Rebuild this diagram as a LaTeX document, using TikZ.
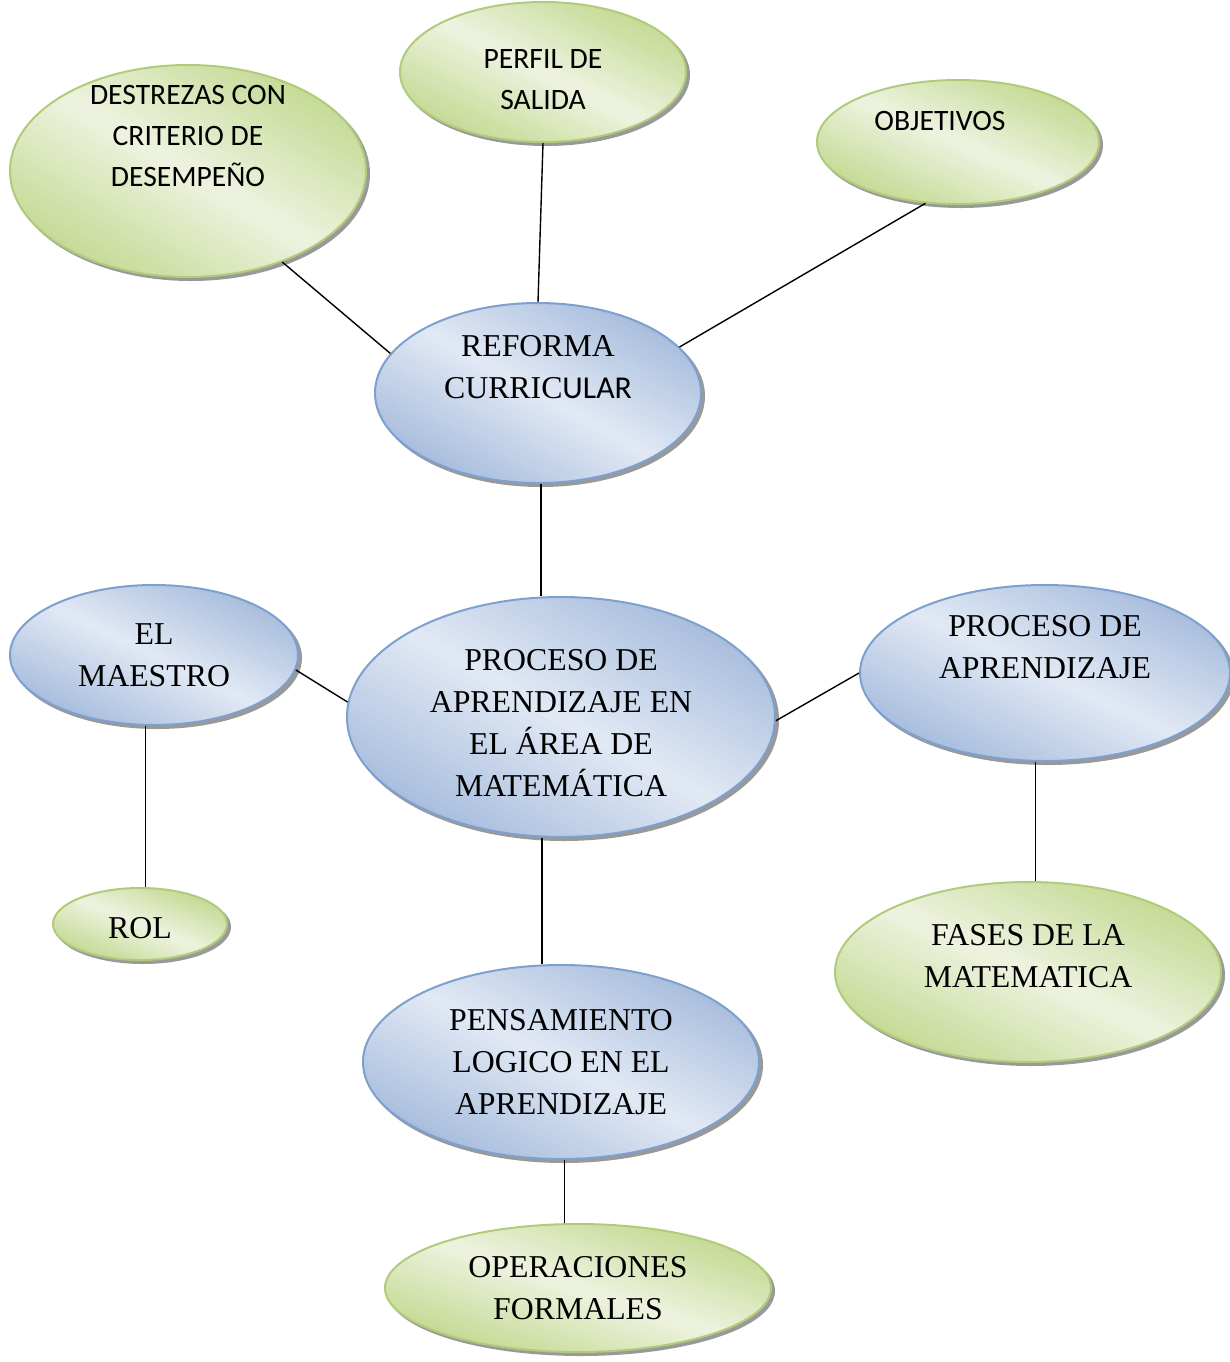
\documentclass[tikz,border=0pt]{standalone}
\usepackage{fontspec}
\setmainfont{Liberation Serif}
\newfontfamily\calibri{Carlito}
\usepackage{tikz}
\usetikzlibrary{positioning,shapes.geometric,shadows}

\definecolor{grline}{RGB}{176,204,122}
\definecolor{grdark}{RGB}{196,217,146}
\definecolor{grlight}{RGB}{238,243,224}
\definecolor{blline}{RGB}{126,160,206}
\definecolor{bldark}{RGB}{166,188,220}
\definecolor{bllight}{RGB}{226,233,245}

\newdimen\bubw
\newdimen\bubh

\tikzset{
  bubble/.style={ellipse, draw, line width=1pt, inner sep=0pt,
    copy shadow={shadow xshift=1.5pt, shadow yshift=-1.5pt, draw=black!40, fill=black!40}},
  bubgrad/.style 2 args={fill=#2, path picture={
    \pgfextractx{\bubw}{\pgfpointdiff{\pgfpointanchor{path picture bounding box}{center}}{\pgfpointanchor{path picture bounding box}{north east}}}
    \pgfextracty{\bubh}{\pgfpointdiff{\pgfpointanchor{path picture bounding box}{center}}{\pgfpointanchor{path picture bounding box}{north east}}}
    \begin{scope}[shift={(path picture bounding box.center)}, x=\bubw, y=\bubh]
      \foreach \u in {-0.76,-0.72,...,0.76} {
        \pgfmathsetmacro\m{max(0,100*(1-abs(\u+0.02)/0.74))}
        \fill[#1!\m!#2] (\u-1.5,\u+1.5) -- (\u+1.5,\u-1.5) -- (\u+1.545,\u-1.455) -- (\u-1.455,\u+1.545) -- cycle;
      }
    \end{scope}}},
  greenbub/.style={bubble, draw=grline, bubgrad={grlight}{grdark}},
  bluebub/.style={bubble, draw=blline, bubgrad={bllight}{bldark}},
  link/.style={black, line width=0.7pt},
  txt/.style={align=center, font=\fontsize{15.9}{21}\selectfont},
  ctxt/.style={align=center, font=\calibri\fontsize{14.8}{20.5}\selectfont},
}

\begin{document}
\begin{tikzpicture}[x=0.5pt, y=-0.5pt]
\useasboundingbox (0,0) rectangle (1230,1362);

\node[greenbub, minimum width=178pt, minimum height=106pt,
  label={[ctxt, yshift=17.5pt]center:DESTREZAS CON\\CRITERIO DE\\DESEMPEÑO}] (destrezas) at (188,171) {};
\node[greenbub, minimum width=143pt, minimum height=70pt,
  label={[ctxt, yshift=-4pt]center:PERFIL DE\\SALIDA}] (perfil) at (543,72) {};
\node[greenbub, minimum width=141pt, minimum height=62pt,
  label={[ctxt, xshift=-9pt, yshift=10.5pt]center:OBJETIVOS}] (objetivos) at (958,142) {};
\node[bluebub, minimum width=163pt, minimum height=90pt,
  label={[txt, yshift=13pt]center:REFORMA\\CURRIC{\calibri ULAR}}] (reforma) at (538,393) {};
\node[bluebub, minimum width=144pt, minimum height=70pt,
  label={[txt]center:EL\\MAESTRO}] (maestro) at (154,655) {};
\node[bluebub, minimum width=214pt, minimum height=120pt,
  label={[txt, yshift=-3pt]center:PROCESO DE\\APRENDIZAJE EN\\EL ÁREA DE\\MATEMÁTICA}] (proceso) at (561,717) {};
\node[bluebub, minimum width=185pt, minimum height=88pt,
  label={[txt, yshift=13pt]center:PROCESO DE\\APRENDIZAJE}] (aprendizaje) at (1045,673) {};
\node[greenbub, minimum width=87pt, minimum height=36pt,
  label={[txt, yshift=-2pt]center:ROL}] (rol) at (140,924) {};
\node[greenbub, minimum width=193pt, minimum height=90pt,
  label={[txt, yshift=8pt]center:FASES DE LA\\MATEMATICA}] (fases) at (1028,972) {};
\node[bluebub, minimum width=198pt, minimum height=97pt,
  label={[txt]center:PENSAMIENTO\\LOGICO EN EL\\APRENDIZAJE}] (pensamiento) at (561,1062) {};
\node[greenbub, minimum width=193pt, minimum height=64pt,
  label={[txt]center:OPERACIONES\\FORMALES}] (operaciones) at (578,1288) {};

\draw[link] (destrezas.-44) -- (reforma.165);
\draw[link] (perfil.south) -- (reforma.north);
\draw[link] (objetivos.-118) -- (reforma.18);
\draw[link] (reforma.-88) -- (reforma.-88 |- proceso.north);
\draw[link] (maestro.-6) -- (proceso.176);
\draw[link] (proceso.-1) -- (aprendizaje.180);
\draw[link] (maestro.-97) -- (maestro.-97 |- rol.north);
\draw[link] (aprendizaje.-96) -- (aprendizaje.-96 |- fases.north);
\draw[link] (proceso.-99) -- (proceso.-99 |- pensamiento.north);
\draw[link] (pensamiento.-88) -- (pensamiento.-88 |- operaciones.north);
\end{tikzpicture}
\end{document}
